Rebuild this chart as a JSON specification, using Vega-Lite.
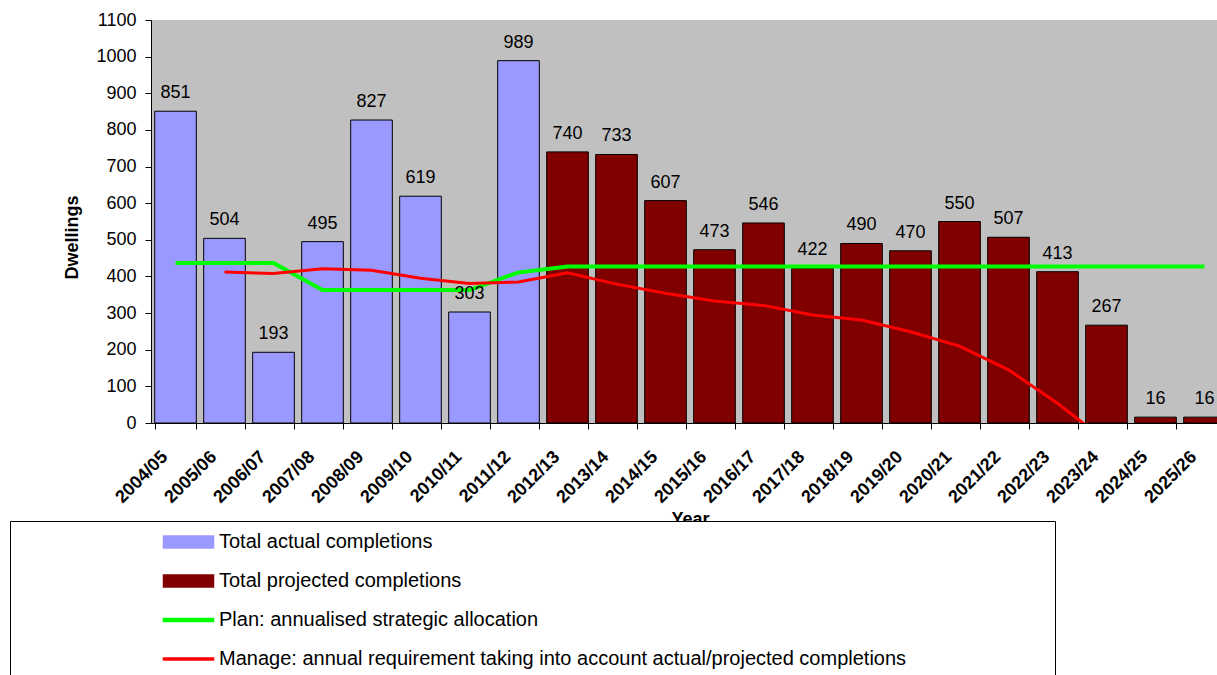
{
  "$schema": "https://vega.github.io/schema/vega-lite/v6.json",
  "autosize": "none",
  "width": 1078,
  "height": 403,
  "padding": {"left": 151, "top": 20, "right": -12, "bottom": 252},
  "background": "white",
  "config": {
    "font": "Liberation Sans",
    "view": {"fill": "#C0C0C0", "stroke": null},
    "axis": {
      "domainColor": "#000000",
      "tickColor": "#000000",
      "labelColor": "#000000",
      "titleColor": "#000000",
      "grid": false,
      "labelFont": "Liberation Sans",
      "titleFont": "Liberation Sans"
    },
    "legend": {
      "orient": "none",
      "legendX": -141,
      "legendY": 501,
      "padding": 11,
      "fillColor": "white",
      "strokeColor": "#000000",
      "strokeWidth": 1,
      "clipHeight": 20,
      "rowPadding": 19,
      "symbolOffset": 154,
      "labelOffset": 17,
      "labelFont": "Liberation Sans",
      "labelFontSize": 20,
      "labelColor": "#000000",
      "labelLimit": 1000
    }
  },
  "data": {
    "values": [
      {"year": "2004/05", "completions": 851, "type": "Total actual completions", "plan": 437, "manage": null},
      {"year": "2005/06", "completions": 504, "type": "Total actual completions", "plan": 437, "manage": 412},
      {"year": "2006/07", "completions": 193, "type": "Total actual completions", "plan": 437, "manage": 408},
      {"year": "2007/08", "completions": 495, "type": "Total actual completions", "plan": 363, "manage": 421},
      {"year": "2008/09", "completions": 827, "type": "Total actual completions", "plan": 363, "manage": 417},
      {"year": "2009/10", "completions": 619, "type": "Total actual completions", "plan": 363, "manage": 395},
      {"year": "2010/11", "completions": 303, "type": "Total actual completions", "plan": 363, "manage": 381},
      {"year": "2011/12", "completions": 989, "type": "Total actual completions", "plan": 411, "manage": 385},
      {"year": "2012/13", "completions": 740, "type": "Total projected completions", "plan": 427, "manage": 410},
      {"year": "2013/14", "completions": 733, "type": "Total projected completions", "plan": 427, "manage": 379},
      {"year": "2014/15", "completions": 607, "type": "Total projected completions", "plan": 427, "manage": 354},
      {"year": "2015/16", "completions": 473, "type": "Total projected completions", "plan": 427, "manage": 333},
      {"year": "2016/17", "completions": 546, "type": "Total projected completions", "plan": 427, "manage": 321},
      {"year": "2017/18", "completions": 422, "type": "Total projected completions", "plan": 427, "manage": 295},
      {"year": "2018/19", "completions": 490, "type": "Total projected completions", "plan": 427, "manage": 281},
      {"year": "2019/20", "completions": 470, "type": "Total projected completions", "plan": 427, "manage": 249},
      {"year": "2020/21", "completions": 550, "type": "Total projected completions", "plan": 427, "manage": 210},
      {"year": "2021/22", "completions": 507, "type": "Total projected completions", "plan": 427, "manage": 145},
      {"year": "2022/23", "completions": 413, "type": "Total projected completions", "plan": 427, "manage": 54},
      {"year": "2023/24", "completions": 267, "type": "Total projected completions", "plan": 427, "manage": -50},
      {"year": "2024/25", "completions": 16, "type": "Total projected completions", "plan": 427, "manage": null},
      {"year": "2025/26", "completions": 16, "type": "Total projected completions", "plan": 427, "manage": null}
    ]
  },
  "encoding": {
    "x": {
      "field": "year",
      "type": "ordinal",
      "sort": null,
      "scale": {"paddingInner": 0.15, "paddingOuter": 0.075},
      "axis": {
        "title": "Year",
        "titleFontSize": 18,
        "titleFontWeight": "bold",
        "titleX": 539,
        "titleY": 87,
        "titleAlign": "center",
        "titleBaseline": "top",
        "labelAngle": -45,
        "labelAlign": "right",
        "labelBaseline": "middle",
        "labelOffset": -11,
        "labelPadding": 25,
        "labelFontSize": 18,
        "labelFontWeight": "bold",
        "labelOverlap": false,
        "tickBand": "extent",
        "tickSize": 6
      }
    }
  },
  "layer": [
    {
      "mark": {"type": "bar", "stroke": "#000000", "strokeWidth": 1},
      "encoding": {
        "y": {
          "field": "completions",
          "type": "quantitative",
          "scale": {"domain": [0, 1100], "nice": false},
          "axis": {
            "title": "Dwellings",
            "titleFontSize": 18,
            "titleFontWeight": "bold",
            "titleAngle": -90,
            "titleAlign": "center",
            "titleBaseline": "middle",
            "titleX": -79,
            "titleY": 217,
            "values": [0, 100, 200, 300, 400, 500, 600, 700, 800, 900, 1000, 1100],
            "format": "d",
            "labelFontSize": 18,
            "labelPadding": 9,
            "tickSize": 6
          }
        },
        "color": {
          "field": "type",
          "type": "nominal",
          "scale": {
            "domain": [
              "Total actual completions",
              "Total projected completions",
              "Plan: annualised strategic allocation",
              "Manage: annual requirement taking into account actual/projected completions"
            ],
            "range": ["#9999FF", "#800000", "#00FF00", "#FF0000"]
          },
          "legend": {
            "title": null,
            "encode": {
              "entries": {"update": {"width": {"value": 1023}}},
              "symbols": {
                "update": {
                  "shape": {"signal": "indexof(datum.value, 'Plan') === 0 ? 'M-2,-0.12H2V0.12H-2Z' : indexof(datum.value, 'Manage') === 0 ? 'M-2,-0.08H2V0.08H-2Z' : 'M-2,-0.48H2V0.48H-2Z'"},
                  "size": {"value": 625},
                  "fill": {"signal": "scale('color', datum.value)"},
                  "stroke": {"signal": "indexof(datum.value, 'Total') === 0 ? '#000000' : scale('color', datum.value)"},
                  "strokeWidth": {"value": 1.5},
                  "opacity": {"value": 1}
                }
              }
            }
          }
        }
      }
    },
    {
      "mark": {"type": "line", "strokeWidth": 4, "clip": true},
      "encoding": {
        "x": {"field": "year", "type": "ordinal", "sort": null, "bandPosition": 0.5},
        "y": {
          "field": "plan",
          "type": "quantitative",
          "axis": {
            "title": "Dwellings",
            "values": [0, 100, 200, 300, 400, 500, 600, 700, 800, 900, 1000, 1100],
            "format": "d"
          }
        },
        "color": {
          "datum": "Plan: annualised strategic allocation",
          "type": "nominal",
          "legend": {
            "title": null,
            "encode": {
              "entries": {"update": {"width": {"value": 1023}}},
              "symbols": {
                "update": {
                  "shape": {"signal": "indexof(datum.value, 'Plan') === 0 ? 'M-2,-0.12H2V0.12H-2Z' : indexof(datum.value, 'Manage') === 0 ? 'M-2,-0.08H2V0.08H-2Z' : 'M-2,-0.48H2V0.48H-2Z'"},
                  "size": {"value": 625},
                  "fill": {"signal": "scale('color', datum.value)"},
                  "stroke": {"signal": "indexof(datum.value, 'Total') === 0 ? '#000000' : scale('color', datum.value)"},
                  "strokeWidth": {"value": 1.5},
                  "opacity": {"value": 1}
                }
              }
            }
          }
        }
      }
    },
    {
      "mark": {"type": "line", "strokeWidth": 3, "clip": true},
      "encoding": {
        "x": {"field": "year", "type": "ordinal", "sort": null, "bandPosition": 0.5},
        "y": {
          "field": "manage",
          "type": "quantitative",
          "axis": {
            "title": "Dwellings",
            "values": [0, 100, 200, 300, 400, 500, 600, 700, 800, 900, 1000, 1100],
            "format": "d"
          }
        },
        "color": {
          "datum": "Manage: annual requirement taking into account actual/projected completions",
          "type": "nominal",
          "legend": {
            "title": null,
            "encode": {
              "entries": {"update": {"width": {"value": 1023}}},
              "symbols": {
                "update": {
                  "shape": {"signal": "indexof(datum.value, 'Plan') === 0 ? 'M-2,-0.12H2V0.12H-2Z' : indexof(datum.value, 'Manage') === 0 ? 'M-2,-0.08H2V0.08H-2Z' : 'M-2,-0.48H2V0.48H-2Z'"},
                  "size": {"value": 625},
                  "fill": {"signal": "scale('color', datum.value)"},
                  "stroke": {"signal": "indexof(datum.value, 'Total') === 0 ? '#000000' : scale('color', datum.value)"},
                  "strokeWidth": {"value": 1.5},
                  "opacity": {"value": 1}
                }
              }
            }
          }
        }
      }
    },
    {
      "mark": {"type": "text", "fontSize": 18, "baseline": "alphabetic", "dy": -13, "color": "#000000"},
      "encoding": {
        "y": {
          "field": "completions",
          "type": "quantitative",
          "axis": {
            "title": "Dwellings",
            "values": [0, 100, 200, 300, 400, 500, 600, 700, 800, 900, 1000, 1100],
            "format": "d"
          }
        },
        "text": {"field": "completions", "type": "quantitative"}
      }
    }
  ]
}
